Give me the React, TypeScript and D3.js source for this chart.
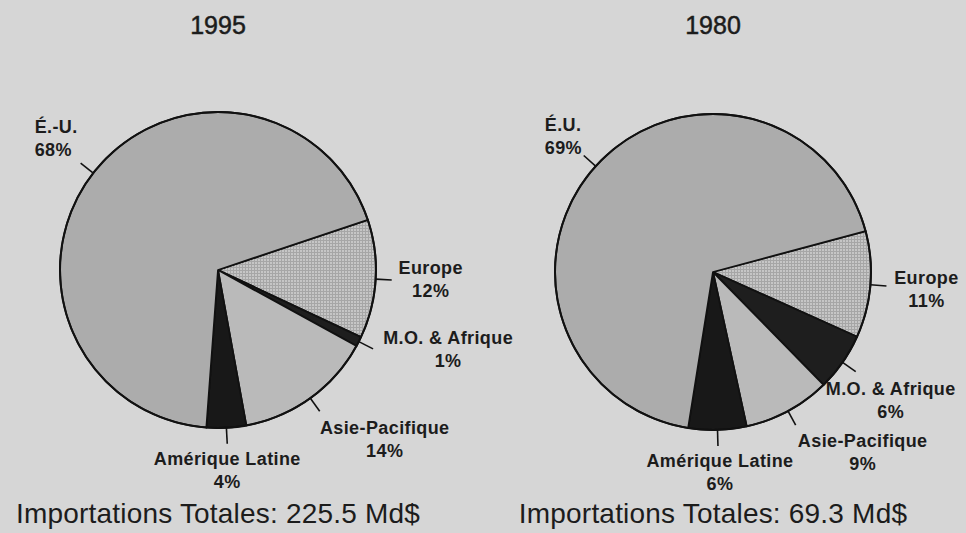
import React from "react";
import * as d3 from "d3";

// data (percent of total imports)
const years = ["1995", "1980"];
const labels1995 = ["Europe", "M.O. & Afrique", "Asie-Pacifique", "Amérique Latine", "É.-U."];
const labels1980 = ["Europe", "M.O. & Afrique", "Asie-Pacifique", "Amérique Latine", "É.U."];
const values1995 = [12, 1, 14, 4, 68];
const values1980 = [11, 6, 9, 6, 69];
const totals = ["225.5", "69.3"];

const W = 966;
const H = 533;
const R = 158;
const font = "'Liberation Sans', Arial, Helvetica, sans-serif";
const ink = "#1c1c1c";

// slice fills in data order: Europe, M.O., Asie, Latine, E.U.
const fills = ["url(#grid)", "#1e1e1e", "#bababa", "#181818", "#acacac"];

// layout for each pie: centre, start angle (deg), label offsets from leader end
const layouts = [
  {
    cx: 218,
    cy: 270,
    start: 71.5,
    offsets: [
      [39, -6, "middle"],
      [75, -5, "middle"],
      [65, 23, "middle"],
      [0, 21, "middle"],
      [-46, -30, "start"],
    ],
  },
  {
    cx: 713,
    cy: 272,
    start: 75,
    offsets: [
      [40, -2, "middle"],
      [35, 23, "middle"],
      [67, 22, "middle"],
      [2, 21, "middle"],
      [-39, -25, "start"],
    ],
  },
];

const rad = (deg: number) => (deg * Math.PI) / 180;

function Pie({ idx, labels, values }: { idx: number; labels: string[]; values: number[] }) {
  const L = layouts[idx];
  const pie = d3
    .pie<number>()
    .sort(null)
    .startAngle(rad(L.start))
    .endAngle(rad(L.start + 360));
  const arcs = pie(values);
  const arc = d3.arc<d3.PieArcDatum<number>>().innerRadius(0).outerRadius(R);
  const lineH = 23;

  return (
    <g transform={`translate(${L.cx},${L.cy})`}>
      {arcs.map((a, i) => (
        <path
          key={i}
          d={arc(a) || ""}
          fill={fills[i]}
          stroke="#111"
          strokeWidth={1.8}
          strokeLinejoin="round"
        />
      ))}
      <circle r={R} fill="none" stroke="#111" strokeWidth={2} />
      {arcs.map((a, i) => {
        const mid = (a.startAngle + a.endAngle) / 2;
        const x0 = R * Math.sin(mid);
        const y0 = -R * Math.cos(mid);
        const x1 = (R + 16) * Math.sin(mid);
        const y1 = -(R + 16) * Math.cos(mid);
        const [dx, dy, anchor] = L.offsets[i] as [number, number, string];
        return (
          <g key={"l" + i}>
            <line x1={x0} y1={y0} x2={x1} y2={y1} stroke="#111" strokeWidth={1.6} />
            <text
              x={x1 + dx}
              y={y1 + dy}
              textAnchor={anchor as any}
              fontFamily={font}
              fontWeight="bold"
              fontSize={18}
              letterSpacing={0.4}
              fill={ink}
            >
              <tspan x={x1 + dx}>{labels[i]}</tspan>
              <tspan x={x1 + dx} dy={lineH}>
                {values[i] + "%"}
              </tspan>
            </text>
          </g>
        );
      })}
      <text
        y={34 - L.cy}
        textAnchor="middle"
        fontFamily={font}
        fontSize={25}
        fill={ink}
        stroke={ink}
        strokeWidth={0.5}
      >
        {years[idx]}
      </text>
      <text
        y={523 - L.cy}
        textAnchor="middle"
        fontFamily={font}
        fontSize={28}
        letterSpacing={0.2}
        fill={ink}
      >
        {`Importations Totales: ${totals[idx]} Md$`}
      </text>
    </g>
  );
}

export default function App() {
  return (
    <svg
      width={W}
      height={H}
      style={{ position: "absolute", left: 0, top: 0, display: "block" }}
    >
      <defs>
        <pattern id="grid" width={3} height={3} patternUnits="userSpaceOnUse">
          <rect width={3} height={3} fill="#c6c6c6" />
          <rect width={3} height={1} fill="#a6a6a6" />
          <rect width={1} height={3} fill="#a6a6a6" />
        </pattern>
      </defs>
      <rect width={W} height={H} fill="#d6d6d6" />
      <Pie idx={0} labels={labels1995} values={values1995} />
      <Pie idx={1} labels={labels1980} values={values1980} />
    </svg>
  );
}
